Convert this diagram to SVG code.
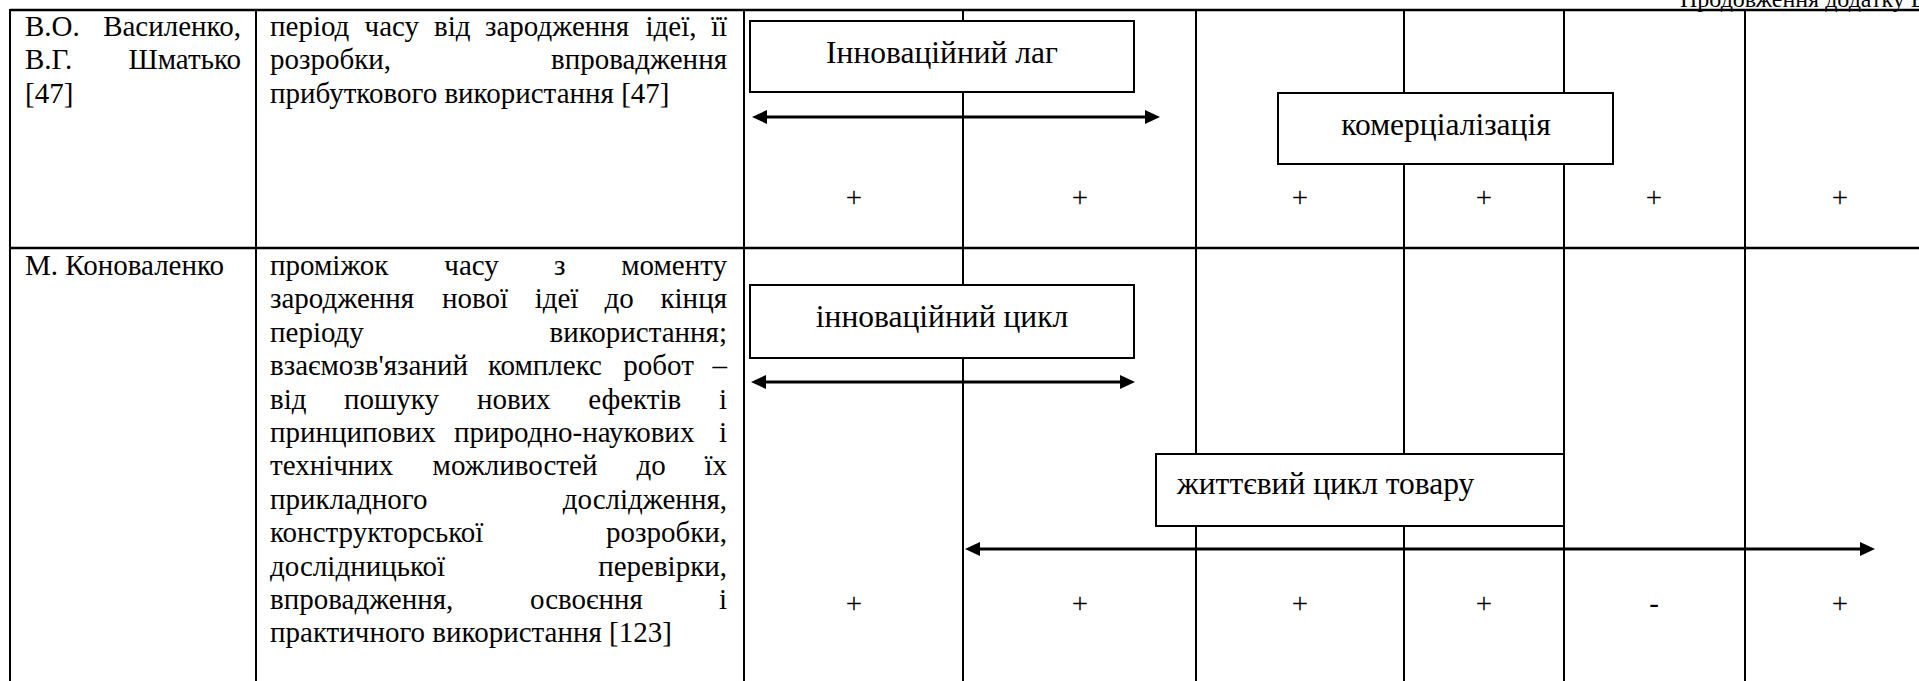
<svg xmlns="http://www.w3.org/2000/svg" width="1919" height="681" viewBox="0 0 1919 681" font-family="'Liberation Serif', 'Times New Roman', 'DejaVu Serif', serif">
  <defs>
    <marker id="head" viewBox="0 -7 15 14" refX="0" refY="0" markerWidth="15" markerHeight="14" markerUnits="userSpaceOnUse" orient="auto-start-reverse">
      <path d="M0,-7 L15,0 L0,7 Z" fill="#000"/>
    </marker>
    <style>
      .grid { stroke: #000; stroke-width: 2; fill: none; }
      .rule { stroke: #000; stroke-width: 2.5; fill: none; }
      .box { fill: #fff; stroke: #000; stroke-width: 2; }
      .arrow { stroke: #000; stroke-width: 3; fill: none; marker-start: url(#head); marker-end: url(#head); }
      text { font-family: "Liberation Serif", "Times New Roman", "DejaVu Serif", serif; fill: #000; }
      .t { font-size: 29px; }
      .hdr { font-size: 24px; }
      .lbl { font-size: 31.5px; }
      .mark { font-size: 29px; text-anchor: middle; }
      .end { text-anchor: end; }
      .mid { text-anchor: middle; }
    </style>
  </defs>

  <rect width="1919" height="681" fill="#fff"/>

  <!-- page header, cut by the top edge -->
  <text class="hdr" x="1680" y="7">Продовження додатку Б</text>

  <!-- table frame -->
  <g id="table">
    <line class="rule" x1="10" y1="10" x2="1919" y2="10"/>
    <line class="rule" x1="10" y1="248" x2="1919" y2="248"/>
    <line class="grid" x1="10" y1="9" x2="10" y2="681"/>
    <line class="grid" x1="256" y1="9" x2="256" y2="681"/>
    <line class="grid" x1="744" y1="9" x2="744" y2="681"/>
    <line class="grid" x1="963" y1="9" x2="963" y2="681"/>
    <line class="grid" x1="1196" y1="9" x2="1196" y2="681"/>
    <line class="grid" x1="1404" y1="9" x2="1404" y2="681"/>
    <line class="grid" x1="1564" y1="9" x2="1564" y2="681"/>
    <line class="grid" x1="1745" y1="9" x2="1745" y2="681"/>
  </g>

  <!-- row 1: authors -->
  <g id="author-1" class="t">
    <text x="25" y="36">В.О.</text>
    <text class="end" x="241" y="36">Василенко,</text>
    <text x="25" y="69.4">В.Г.</text>
    <text class="end" x="241" y="69.4">Шматько</text>
    <text x="25" y="102.8">[47]</text>
  </g>

  <!-- row 1: definition -->
  <g id="definition-1" class="t">
    <text x="270" y="36">період</text>
    <text x="364.6" y="36">часу</text>
    <text x="434" y="36">від</text>
    <text x="485" y="36">зародження</text>
    <text x="645.5" y="36">ідеї,</text>
    <text class="end" x="727" y="36">її</text>
    <text x="270" y="69.4">розробки,</text>
    <text class="end" x="727" y="69.4">впровадження</text>
    <text x="270" y="102.8">прибуткового використання [47]</text>
  </g>

  <!-- row 2: author -->
  <g id="author-2" class="t">
    <text x="25" y="275">М. Коноваленко</text>
  </g>

  <!-- row 2: definition -->
  <g id="definition-2" class="t">
    <text x="270" y="275">проміжок</text>
    <text x="444.3" y="275">часу</text>
    <text x="553.9" y="275">з</text>
    <text class="end" x="727" y="275">моменту</text>

    <text x="270" y="308.4">зародження</text>
    <text x="442.1" y="308.4">нової</text>
    <text x="534.7" y="308.4">ідеї</text>
    <text x="604.5" y="308.4">до</text>
    <text class="end" x="727" y="308.4">кінця</text>

    <text x="270" y="341.8">періоду</text>
    <text class="end" x="727" y="341.8">використання;</text>

    <text x="270" y="375.2">взаємозв'язаний</text>
    <text x="487.9" y="375.2">комплекс</text>
    <text x="623.3" y="375.2">робот</text>
    <text class="end" x="727" y="375.2">–</text>

    <text x="270" y="408.6">від</text>
    <text x="343.9" y="408.6">пошуку</text>
    <text x="476.9" y="408.6">нових</text>
    <text x="588.2" y="408.6">ефектів</text>
    <text class="end" x="727" y="408.6">і</text>

    <text x="270" y="442">принципових</text>
    <text x="454" y="442">природно-наукових</text>
    <text class="end" x="727" y="442">і</text>

    <text x="270" y="475.4">технічних</text>
    <text x="432.6" y="475.4">можливостей</text>
    <text x="636.5" y="475.4">до</text>
    <text class="end" x="727" y="475.4">їх</text>

    <text x="270" y="508.8">прикладного</text>
    <text class="end" x="727" y="508.8">дослідження,</text>

    <text x="270" y="542.2">конструкторської</text>
    <text class="end" x="727" y="542.2">розробки,</text>

    <text x="270" y="575.6">дослідницької</text>
    <text class="end" x="727" y="575.6">перевірки,</text>

    <text x="270" y="609">впровадження,</text>
    <text x="530" y="609">освоєння</text>
    <text class="end" x="727" y="609">і</text>

    <text x="270" y="642.4">практичного використання [123]</text>
  </g>

  <!-- timeline labels -->
  <g id="innovation-lag">
    <rect class="box" x="750" y="21" width="384" height="71"/>
    <text class="lbl mid" x="942" y="63">Інноваційний лаг</text>
  </g>
  <g id="commercialization">
    <rect class="box" x="1278" y="93" width="335" height="71"/>
    <text class="lbl mid" x="1446" y="135">комерціалізація</text>
  </g>
  <g id="innovation-cycle">
    <rect class="box" x="750" y="285" width="384" height="73"/>
    <text class="lbl mid" x="942" y="327">інноваційний цикл</text>
  </g>
  <g id="product-life-cycle">
    <rect class="box" x="1156" y="454" width="408" height="72"/>
    <text class="lbl" x="1177" y="494">життєвий цикл товару</text>
  </g>

  <!-- span arrows -->
  <g id="connectors">
    <line class="arrow" x1="767" y1="117" x2="1145" y2="117"/>
    <line class="arrow" x1="766" y1="382" x2="1120" y2="382"/>
    <line class="arrow" x1="980" y1="549" x2="1860" y2="549"/>
  </g>

  <!-- stage marks -->
  <g id="marks-1" class="mark">
    <text x="854" y="207">+</text>
    <text x="1080" y="207">+</text>
    <text x="1300" y="207">+</text>
    <text x="1484" y="207">+</text>
    <text x="1654" y="207">+</text>
    <text x="1840" y="207">+</text>
  </g>
  <g id="marks-2" class="mark">
    <text x="854" y="613">+</text>
    <text x="1080" y="613">+</text>
    <text x="1300" y="613">+</text>
    <text x="1484" y="613">+</text>
    <text x="1654" y="613">-</text>
    <text x="1840" y="613">+</text>
  </g>
</svg>
